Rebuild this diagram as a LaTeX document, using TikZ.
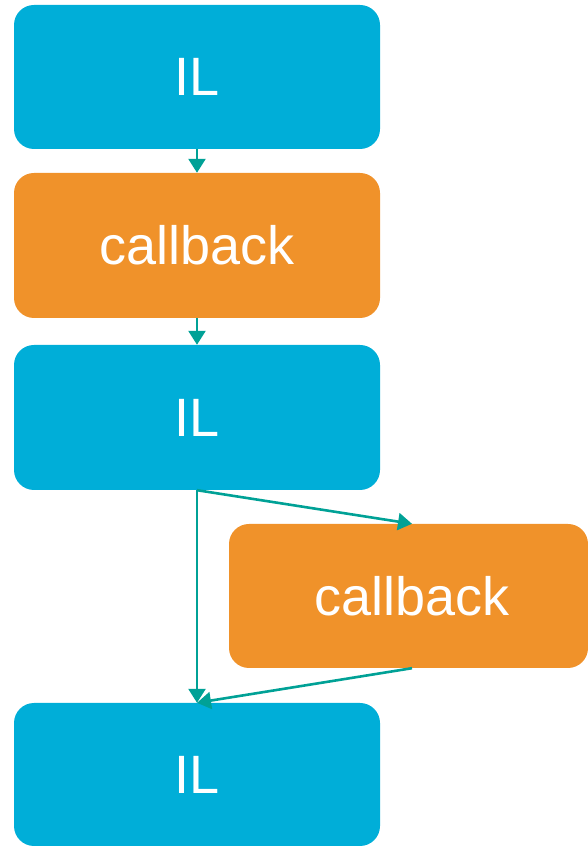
\documentclass[tikz,border=0pt]{standalone}
\usepackage{fontspec}
\setmainfont{Liberation Sans}
\usepackage{tikz}
\usetikzlibrary{positioning,arrows.meta}
\definecolor{ILBlue}{HTML}{00AED8}
\definecolor{CbOrange}{HTML}{F0922A}
\definecolor{FlowTeal}{HTML}{00A196}

\tikzset{
  ilbox/.style={fill=ILBlue, draw=none, rounded corners=20pt, minimum width=366pt, minimum height=144pt, text=white, font=\fontsize{54}{60}\selectfont},
  cbbox/.style={fill=CbOrange, draw=none, rounded corners=20pt, minimum width=366pt, minimum height=145pt, text=white, font=\fontsize{54}{60}\selectfont},
  flow/.style={draw=FlowTeal, line width=2.6pt, -{Triangle[length=14pt,width=17pt]}}
}

\begin{document}
\begin{tikzpicture}[x=1pt, y=1pt]
  \useasboundingbox (0,0) rectangle (588,846);

  % Main column
  \node[ilbox] (il1) at (197,769) {IL};
  \node[cbbox] (cb1) at (197,600.5) {callback};
  \node[ilbox, minimum height=145pt] (il2) at (197,428.5) {IL};
  \node[ilbox, minimum height=143pt] (il3) at (197,71.5) {IL};

  % Side branch
  \node[cbbox, minimum width=359pt, minimum height=144pt] (cb2) at (408.5,250) {\hspace*{7pt}callback};

  % Connectors
  \draw[flow] (il1.south) -- (cb1.north);
  \draw[flow] (cb1.south) -- (il2.north);
  \draw[flow] (il2.south) -- (il3.north);
  \draw[flow] (il2.south) -- ([xshift=3.5pt]cb2.north);
  \draw[flow] ([xshift=3.5pt]cb2.south) -- (il3.north);
\end{tikzpicture}
\end{document}
